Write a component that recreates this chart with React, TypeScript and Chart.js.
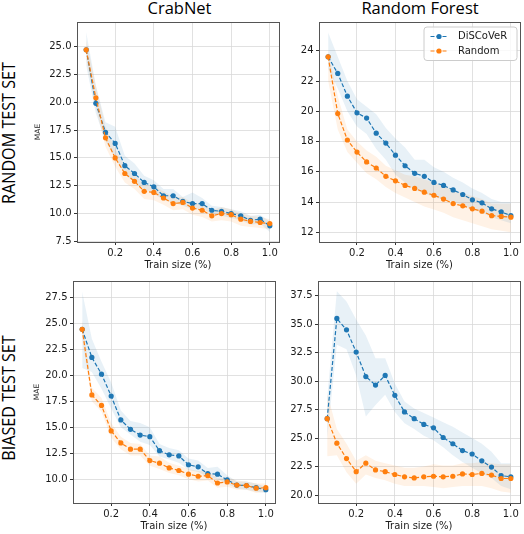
import React, { useEffect, useRef } from "react";
import { Chart, registerables } from "chart.js";

Chart.register(...registerables);

// ---------------- data ----------------
const trainSize = [0.05, 0.1, 0.15, 0.2, 0.25, 0.3, 0.35, 0.4, 0.45, 0.5, 0.55, 0.6, 0.65, 0.7, 0.75, 0.8, 0.85, 0.9, 0.95, 1.0];
const xTicks = [0.2, 0.4, 0.6, 0.8, 1.0];
const legendLabels = ["DiSCoVeR", "Random"];
const colTitles = ["CrabNet", "Random Forest"];
const rowTitles = ["RANDOM TEST SET", "BIASED TEST SET"];
const xTitle = "Train size (%)";
const yTitle = "MAE";

// CrabNet, random test set
const crabRandDiscover = [24.7, 19.9, 17.3, 16.3, 14.3, 13.6, 12.8, 12.4, 11.6, 11.6, 11.1, 10.9, 10.9, 10.3, 10.2, 10.0, 9.8, 9.4, 9.5, 8.9];
const crabRandDiscoverLo = [23.3, 19.0, 16.5, 15.0, 13.5, 12.8, 12.2, 11.8, 11.2, 11.0, 10.7, 10.4, 10.4, 10.0, 9.8, 9.6, 9.4, 9.0, 9.1, 8.35];
const crabRandDiscoverHi = [26.3, 21.5, 18.2, 17.8, 15.2, 14.5, 13.4, 13.0, 12.2, 12.2, 11.5, 11.9, 11.4, 10.7, 10.6, 10.4, 10.2, 9.8, 9.9, 9.3];
const crabRandRandom = [24.7, 20.4, 16.8, 15.0, 13.6, 12.9, 12.0, 11.9, 11.4, 10.9, 11.0, 10.5, 10.3, 9.8, 10.0, 9.9, 9.5, 9.3, 9.2, 9.1];
const crabRandRandomLo = [23.8, 19.5, 16.0, 14.2, 12.8, 12.2, 11.3, 11.2, 10.8, 10.3, 10.4, 9.9, 9.7, 9.3, 9.4, 9.3, 8.9, 8.8, 8.7, 8.6];
const crabRandRandomHi = [25.6, 21.5, 17.8, 15.8, 14.3, 13.5, 12.6, 12.5, 12.0, 11.5, 11.5, 11.0, 10.8, 10.3, 10.6, 10.4, 10.0, 9.8, 9.7, 9.5];

// Random Forest, random test set
const rfRandDiscover = [23.6, 22.5, 21.0, 19.9, 19.55, 18.55, 17.9, 17.1, 16.4, 15.9, 15.7, 15.3, 15.1, 14.8, 14.5, 14.15, 13.95, 13.55, 13.35, 13.1];
const rfRandDiscoverLo = [22.8, 21.5, 20.0, 19.0, 18.5, 17.5, 16.8, 15.8, 15.3, 14.8, 14.6, 14.3, 14.2, 14.0, 13.8, 13.5, 13.3, 13.0, 12.8, 12.6];
const rfRandDiscoverHi = [25.2, 23.6, 22.0, 20.8, 20.3, 19.8, 18.9, 18.2, 17.6, 16.8, 16.8, 16.3, 16.0, 15.6, 15.3, 14.9, 14.6, 14.2, 14.0, 14.0];
const rfRandRandom = [23.6, 19.85, 18.1, 17.3, 16.65, 16.25, 15.7, 15.4, 15.1, 14.9, 14.65, 14.45, 14.2, 13.9, 13.75, 13.55, 13.4, 13.1, 13.05, 13.0];
const rfRandRandomLo = [22.0, 18.8, 17.3, 16.6, 15.9, 15.5, 15.0, 14.6, 14.3, 14.0, 13.7, 13.5, 13.3, 13.0, 12.8, 12.6, 12.4, 12.2, 12.1, 12.0];
const rfRandRandomHi = [24.0, 21.0, 18.8, 18.0, 17.4, 17.0, 16.4, 16.1, 15.8, 15.7, 15.5, 15.3, 15.1, 14.8, 14.6, 14.4, 14.2, 13.9, 13.9, 13.9];

// CrabNet, biased test set
const crabBiasDiscover = [24.4, 21.7, 20.1, 18.0, 15.7, 14.8, 14.25, 14.1, 12.75, 12.35, 12.25, 11.4, 11.2, 10.55, 10.5, 9.95, 9.45, 9.4, 9.2, 9.0];
const crabBiasDiscoverLo = [20.7, 20.3, 18.7, 16.8, 15.0, 14.3, 13.6, 13.3, 12.2, 11.9, 11.6, 10.9, 10.7, 10.2, 10.0, 9.6, 9.1, 9.0, 8.8, 8.7];
const crabBiasDiscoverHi = [28.0, 23.5, 21.3, 19.3, 16.6, 15.6, 15.4, 15.0, 13.4, 13.0, 12.8, 12.0, 11.8, 11.1, 11.2, 10.4, 9.8, 9.8, 9.6, 9.3];
const crabBiasRandom = [24.4, 18.1, 17.1, 14.65, 13.5, 12.9, 12.9, 11.8, 11.55, 11.1, 10.85, 10.5, 10.3, 10.35, 9.65, 9.75, 9.45, 9.4, 9.15, 9.2];
const crabBiasRandomLo = [23.5, 17.5, 16.5, 14.0, 12.9, 12.3, 12.3, 11.3, 11.0, 10.6, 10.4, 10.0, 9.8, 9.9, 9.2, 9.3, 9.0, 9.0, 8.7, 8.8];
const crabBiasRandomHi = [25.3, 18.8, 17.8, 15.4, 14.1, 13.5, 13.4, 12.3, 12.2, 11.6, 11.3, 11.0, 10.8, 10.8, 10.1, 10.2, 9.9, 9.8, 9.6, 9.6];

// Random Forest, biased test set
const rfBiasDiscover = [26.7, 35.5, 34.5, 32.55, 30.4, 29.65, 30.5, 28.75, 27.3, 26.7, 26.2, 25.9, 25.05, 24.5, 23.9, 23.6, 23.0, 22.45, 21.7, 21.6];
const rfBiasDiscoverLo = [25.0, 33.2, 32.8, 30.5, 26.9, 27.9, 28.8, 27.3, 26.3, 25.8, 25.2, 24.8, 24.2, 23.5, 22.9, 22.4, 21.9, 21.5, 20.8, 20.5];
const rfBiasDiscoverHi = [28.5, 37.9, 37.0, 35.4, 34.0, 32.0, 32.0, 29.8, 28.2, 27.6, 27.2, 26.8, 26.4, 26.0, 25.5, 25.0, 24.5, 23.8, 22.8, 22.8];
const rfBiasRandom = [26.7, 24.55, 23.2, 22.05, 22.8, 22.2, 22.05, 21.8, 21.6, 21.5, 21.6, 21.65, 21.6, 21.65, 21.85, 21.8, 21.9, 21.75, 21.45, 21.45];
const rfBiasRandomLo = [23.4, 23.5, 22.0, 21.0, 21.8, 21.5, 21.3, 21.0, 20.8, 20.8, 20.8, 20.7, 20.6, 20.7, 20.8, 20.8, 20.8, 20.6, 20.3, 20.2];
const rfBiasRandomHi = [28.9, 25.8, 24.5, 23.0, 23.5, 23.0, 22.8, 22.6, 22.4, 22.4, 22.5, 22.7, 22.6, 22.6, 22.8, 22.8, 22.9, 22.8, 22.7, 22.7];

const yTicksCrabRand = [7.5, 10.0, 12.5, 15.0, 17.5, 20.0, 22.5, 25.0];
const yTicksRfRand = [12, 14, 16, 18, 20, 22, 24];
const yTicksCrabBias = [10.0, 12.5, 15.0, 17.5, 20.0, 22.5, 25.0, 27.5];
const yTicksRfBias = [20.0, 22.5, 25.0, 27.5, 30.0, 32.5, 35.0, 37.5];

// ---------------- styles ----------------
const BLUE = "#1f77b4";
const ORANGE = "#ff7f0e";
const BLUE_BAND = "rgba(31,119,180,0.10)";
const ORANGE_BAND = "rgba(255,127,14,0.10)";
const TEXT = "#1a1a1a";
const GRID = "#d9d9d9";
const FRAME = "#555555";
const FONT = "DejaVu Sans";

const PAD_TOP = 10;
const X_AXIS_H = 29;

const framePlugin = {
  id: "frame",
  afterDatasetsDraw(chart: any) {
    const { ctx, chartArea: ca } = chart;
    const l = Math.round(ca.left - 0.5) + 0.5;
    const t = Math.round(ca.top - 0.5) + 0.5;
    const r = Math.round(ca.right - 0.5) + 0.5;
    const b = Math.round(ca.bottom - 0.5) + 0.5;
    ctx.save();
    ctx.strokeStyle = FRAME;
    ctx.lineWidth = 1;
    ctx.setLineDash([]);
    ctx.strokeRect(l, t, r - l, b - t);
    ctx.restore();
  },
};

const legendPlugin = {
  id: "miniLegend",
  afterDraw(chart: any) {
    const { ctx, chartArea: ca } = chart;
    const bw = 93;
    const bh = 33.5;
    const bx = ca.right - 3 - bw;
    const by = ca.top + 5;
    const rad = 3;
    ctx.save();
    ctx.beginPath();
    ctx.moveTo(bx + rad, by);
    ctx.lineTo(bx + bw - rad, by);
    ctx.arcTo(bx + bw, by, bx + bw, by + rad, rad);
    ctx.lineTo(bx + bw, by + bh - rad);
    ctx.arcTo(bx + bw, by + bh, bx + bw - rad, by + bh, rad);
    ctx.lineTo(bx + rad, by + bh);
    ctx.arcTo(bx, by + bh, bx, by + bh - rad, rad);
    ctx.lineTo(bx, by + rad);
    ctx.arcTo(bx, by, bx + rad, by, rad);
    ctx.closePath();
    ctx.fillStyle = "rgba(255,255,255,0.8)";
    ctx.fill();
    ctx.strokeStyle = "#cccccc";
    ctx.lineWidth = 1;
    ctx.stroke();
    const colors = [BLUE, ORANGE];
    legendLabels.forEach((lab, i) => {
      const y = by + 9.5 + i * 14.5;
      ctx.strokeStyle = colors[i];
      ctx.lineWidth = 1.2;
      ctx.setLineDash([4, 2]);
      ctx.beginPath();
      ctx.moveTo(bx + 6.5, y);
      ctx.lineTo(bx + 23, y);
      ctx.stroke();
      ctx.setLineDash([]);
      ctx.fillStyle = colors[i];
      ctx.beginPath();
      ctx.arc(bx + 15, y, 2.6, 0, Math.PI * 2);
      ctx.fill();
      ctx.fillStyle = TEXT;
      ctx.font = `10px "${FONT}"`;
      ctx.textBaseline = "middle";
      ctx.textAlign = "left";
      ctx.fillText(lab, bx + 34, y);
    });
    ctx.restore();
  },
};

type PanelProps = {
  plotLeft: number;
  plotTop: number;
  plotW: number;
  plotH: number;
  yW: number;
  padRight: number;
  yMin: number;
  yMax: number;
  yTicks: number[];
  decimals: number;
  showYTitle: boolean;
  yTitlePad: number;
  showLegend: boolean;
  disc: number[];
  discLo: number[];
  discHi: number[];
  rand: number[];
  randLo: number[];
  randHi: number[];
};

function Panel(p: PanelProps) {
  const ref = useRef<HTMLCanvasElement>(null);
  const cw = p.yW + p.plotW + p.padRight;
  const ch = PAD_TOP + p.plotH + X_AXIS_H;

  useEffect(() => {
    if (!ref.current) return;
    const pts = (arr: number[]) => arr.map((y, i) => ({ x: trainSize[i], y }));
    const lineDs = (label: string, data: number[], color: string) => ({
      label,
      data: pts(data),
      borderColor: color,
      backgroundColor: color,
      borderDash: [4, 2],
      borderWidth: 1.2,
      pointRadius: 2.6,
      pointBorderWidth: 0,
      pointBackgroundColor: color,
      fill: false,
      tension: 0,
    });
    const bandDs = (label: string, data: number[], fill: any, bg: string) => ({
      label,
      data: pts(data),
      borderColor: "rgba(0,0,0,0)",
      backgroundColor: bg,
      borderWidth: 0,
      pointRadius: 0,
      fill,
      tension: 0,
    });
    const tickFont = { family: FONT, size: 10 };
    const chart = new Chart(ref.current, {
      type: "line",
      data: {
        datasets: [
          lineDs("Random", p.rand, ORANGE),
          lineDs("DiSCoVeR", p.disc, BLUE),
          bandDs("DiSCoVeR upper", p.discHi, false, BLUE_BAND),
          bandDs("DiSCoVeR lower", p.discLo, "-1", BLUE_BAND),
          bandDs("Random upper", p.randHi, false, ORANGE_BAND),
          bandDs("Random lower", p.randLo, "-1", ORANGE_BAND),
        ] as any,
      },
      options: {
        animation: false,
        responsive: false,
        devicePixelRatio: 1,
        events: [],
        layout: { padding: { top: PAD_TOP, right: p.padRight, left: 0, bottom: 0 } },
        plugins: {
          legend: { display: false },
          tooltip: { enabled: false },
        },
        scales: {
          x: {
            type: "linear",
            min: 0.0025,
            max: 1.0475,
            afterBuildTicks: (s: any) => {
              s.ticks = xTicks.map((v) => ({ value: v }));
            },
            afterFit: (s: any) => {
              s.height = X_AXIS_H;
            },
            grid: { color: GRID, lineWidth: 0.8, tickColor: "#333", tickLength: 3, tickWidth: 1 },
            border: { display: false },
            ticks: {
              font: tickFont,
              color: TEXT,
              padding: 2,
              maxRotation: 0,
              autoSkip: false,
              callback: (v: any) => Number(v).toFixed(1),
            },
            title: {
              display: true,
              text: xTitle,
              font: tickFont,
              color: TEXT,
              padding: 0,
            },
          },
          y: {
            type: "linear",
            min: p.yMin,
            max: p.yMax,
            afterBuildTicks: (s: any) => {
              s.ticks = p.yTicks.map((v) => ({ value: v }));
            },
            afterFit: (s: any) => {
              s.width = p.yW;
            },
            grid: { color: GRID, lineWidth: 0.8, tickColor: "#333", tickLength: 3, tickWidth: 1 },
            border: { display: false },
            ticks: {
              font: tickFont,
              color: TEXT,
              padding: 2.5,
              autoSkip: false,
              callback: (v: any) => Number(v).toFixed(p.decimals),
            },
            title: {
              display: p.showYTitle,
              text: yTitle,
              font: { family: FONT, size: 7.5 },
              color: TEXT,
              padding: { top: p.yTitlePad, bottom: 0 },
            },
          },
        },
      } as any,
      plugins: p.showLegend ? [framePlugin, legendPlugin] : [framePlugin],
    });
    return () => chart.destroy();
  }, []);

  return (
    <canvas
      ref={ref}
      width={cw}
      height={ch}
      style={{
        position: "absolute",
        left: p.plotLeft - p.yW,
        top: p.plotTop - PAD_TOP,
        width: cw,
        height: ch,
      }}
    />
  );
}

const colTitleStyle = (cx: number): React.CSSProperties => ({
  position: "absolute",
  left: cx,
  top: 0,
  transform: "translateX(-50%)",
  fontFamily: '"Open Sans", sans-serif',
  fontSize: 16.5,
  lineHeight: 1,
  whiteSpace: "nowrap",
  color: "#000",
});

const rowTitleStyle = (cy: number): React.CSSProperties => ({
  position: "absolute",
  left: 7.5,
  top: cy,
  transform: "translate(-50%, -50%) rotate(-90deg) scaleX(0.85)",
  fontFamily: '"Open Sans", sans-serif',
  fontSize: 19,
  lineHeight: 1,
  whiteSpace: "nowrap",
  color: "#000",
});

export default function App() {
  return (
    <div
      style={{
        position: "absolute",
        left: 0,
        top: 0,
        width: 524,
        height: 534,
        background: "#fff",
        overflow: "hidden",
      }}
    >
      <div style={colTitleStyle(179.5)}>{colTitles[0]}</div>
      <div style={colTitleStyle(420)}>{colTitles[1]}</div>
      <div style={rowTitleStyle(132.5)}>{rowTitles[0]}</div>
      <div style={rowTitleStyle(398)}>{rowTitles[1]}</div>

      <Panel
        plotLeft={77}
        plotTop={22}
        plotW={202}
        plotH={220}
        yW={44}
        padRight={4}
        yMin={7.45}
        yMax={27.2}
        yTicks={yTicksCrabRand}
        decimals={1}
        showYTitle={true}
        yTitlePad={0.8}
        showLegend={false}
        disc={crabRandDiscover}
        discLo={crabRandDiscoverLo}
        discHi={crabRandDiscoverHi}
        rand={crabRandRandom}
        randLo={crabRandRandomLo}
        randHi={crabRandRandomHi}
      />
      <Panel
        plotLeft={319}
        plotTop={22}
        plotW={203}
        plotH={220}
        yW={30}
        padRight={2}
        yMin={11.36}
        yMax={25.9}
        yTicks={yTicksRfRand}
        decimals={0}
        showYTitle={false}
        yTitlePad={0}
        showLegend={true}
        disc={rfRandDiscover}
        discLo={rfRandDiscoverLo}
        discHi={rfRandDiscoverHi}
        rand={rfRandRandom}
        randLo={rfRandRandomLo}
        randHi={rfRandRandomHi}
      />
      <Panel
        plotLeft={73}
        plotTop={281}
        plotW={202}
        plotH={222}
        yW={41}
        padRight={4}
        yMin={7.73}
        yMax={29.04}
        yTicks={yTicksCrabBias}
        decimals={1}
        showYTitle={true}
        yTitlePad={0.2}
        showLegend={false}
        disc={crabBiasDiscover}
        discLo={crabBiasDiscoverLo}
        discHi={crabBiasDiscoverHi}
        rand={crabBiasRandom}
        randLo={crabBiasRandomLo}
        randHi={crabBiasRandomHi}
      />
      <Panel
        plotLeft={318}
        plotTop={281}
        plotW={204}
        plotH={222}
        yW={35}
        padRight={2}
        yMin={19.3}
        yMax={38.79}
        yTicks={yTicksRfBias}
        decimals={1}
        showYTitle={false}
        yTitlePad={0}
        showLegend={false}
        disc={rfBiasDiscover}
        discLo={rfBiasDiscoverLo}
        discHi={rfBiasDiscoverHi}
        rand={rfBiasRandom}
        randLo={rfBiasRandomLo}
        randHi={rfBiasRandomHi}
      />
    </div>
  );
}
